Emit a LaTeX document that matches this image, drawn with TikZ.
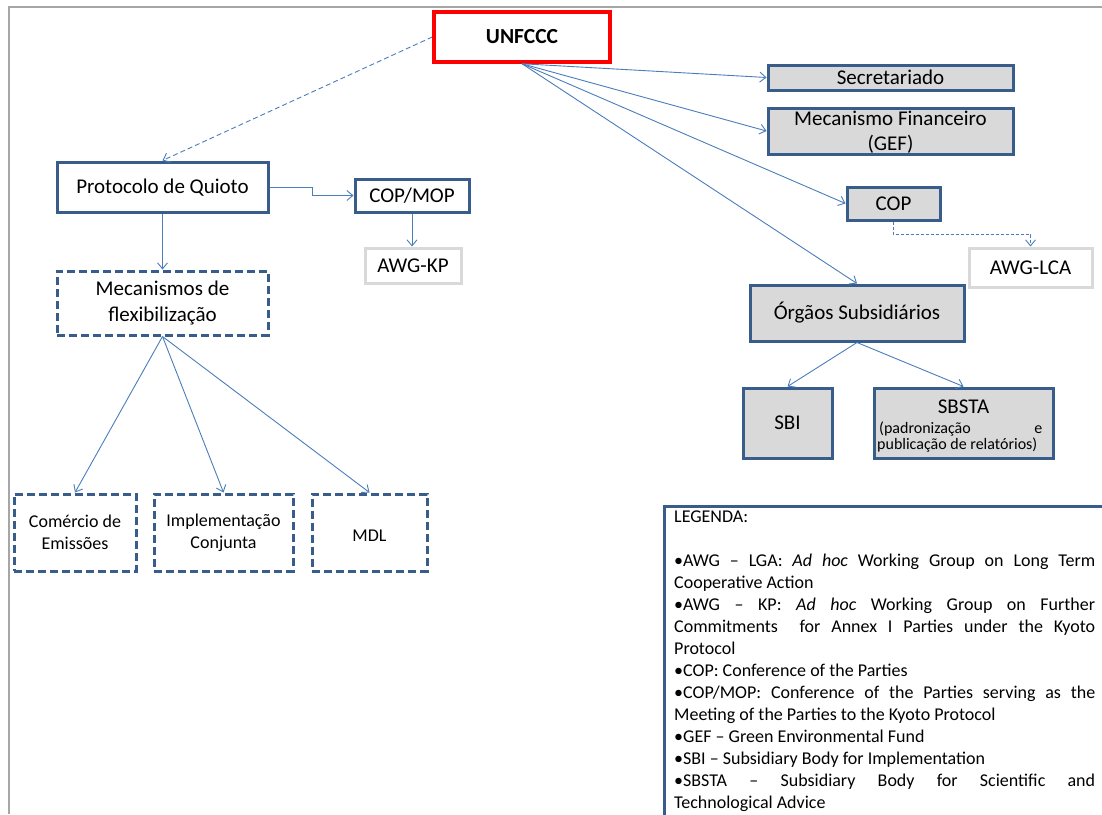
\documentclass[tikz,border=0pt]{standalone}
\usepackage{fontspec}
\setmainfont{Carlito}
\usetikzlibrary{arrows.meta}
\definecolor{boxblue}{HTML}{385D8A}
\definecolor{linkblue}{HTML}{4A7EBB}
\definecolor{boxgray}{HTML}{D9D9D9}
\definecolor{framegray}{HTML}{A6A6A6}
\newcommand\legjust[1]{\makebox[421pt][s]{#1}}
\begin{document}
\begin{tikzpicture}[x=1pt,y=-1pt,
  basebox/.style={rectangle, inner sep=0pt, font=\fontsize{21}{25.6}\selectfont, align=center},
  single/.style={text height=13.5pt, text depth=0pt},
  solidbox/.style={basebox, draw=boxblue, line width=3pt, fill=white},
  graybox/.style={solidbox, fill=boxgray},
  dashbox/.style={basebox, draw=boxblue, line width=3pt, dash pattern=on 8pt off 4pt, fill=white},
  lightbox/.style={basebox, draw=boxgray, line width=3pt, fill=white},
  smallfont/.style={font=\fontsize{18}{22}\selectfont},
  txt/.style={inner sep=0pt, font=\fontsize{21}{25.6}\selectfont},
  link/.style={draw=linkblue, line width=0.9pt, -{Straight Barb[length=6pt,width=10pt]}},
  dlink/.style={link, dash pattern=on 5pt off 3pt},
]
\useasboundingbox (0,0) rectangle (1102,814);
\fill[white] (0,0) rectangle (1102,814);
% frame
\draw[framegray, line width=2pt] (9,814) -- (9,7) -- (1102,7);

% legend box
\node[draw=boxblue, line width=3pt, fill=white, inner sep=0pt, minimum width=460pt, minimum height=340pt, anchor=north west] (legbox) at (663,505) {};
\node[anchor=north west, inner sep=0pt, text width=421pt, align=justify, font=\fontsize{18}{22}\selectfont] (legtxt) at (674,510.5) {LEGENDA:\\
\mbox{}\\
\legjust{•AWG – LGA: \textit{Ad hoc} Working Group on Long Term}\\
Cooperative Action\\
\legjust{•AWG – KP: \textit{Ad hoc} Working Group on Further}\\
\legjust{Commitments \ for Annex I Parties under the Kyoto}\\
Protocol\\
•COP: Conference of the Parties\\
\legjust{•COP/MOP: Conference of the Parties serving as the}\\
Meeting of the Parties to the Kyoto Protocol\\
•GEF – Green Environmental Fund\\
•SBI – Subsidiary Body for Implementation\\
\legjust{•SBSTA – Subsidiary Body for Scientific and}\\
Technological Advice};

% boxes
\node[solidbox, draw=red, line width=3.5pt, font=\fontsize{21.5}{25}\selectfont\bfseries, text height=13.8pt, text depth=0pt, minimum width=176pt, minimum height=50pt] (u) at (522,37) {UNFCCC};
\node[graybox, single, minimum width=245pt, minimum height=25pt] (sec) at (890.5,77.5) {Secretariado};
\node[graybox, minimum width=245pt, minimum height=46pt] (mf) at (890.5,131) {};
\node[txt, anchor=base] (mft1) at (890.5,125) {Mecanismo Financeiro};
\node[txt, anchor=base] (mft2) at (890.5,150) {(GEF)};
\node[graybox, single, minimum width=93pt, minimum height=33pt] (cop) at (893.5,203.5) {COP};
\node[lightbox, single, minimum width=123pt, minimum height=39pt] (lca) at (1030.5,267.5) {AWG-LCA};
\node[graybox, single, minimum width=214pt, minimum height=56pt] (org) at (857,313) {Órgãos Subsidiários};
\node[graybox, single, minimum width=89pt, minimum height=70pt] (sbi) at (787.5,423) {SBI};
\node[graybox, minimum width=179pt, minimum height=70pt] (sbsta) at (963.5,423) {};
\node[txt, anchor=base] (sbt1) at (963.5,413) {SBSTA};
\node[inner sep=0pt, anchor=base west, font=\fontsize{16}{16}\selectfont] (sbt2) at (879,433) {\makebox[163pt][s]{(padronização e}};
\node[inner sep=0pt, anchor=base west, font=\fontsize{16}{16}\selectfont] (sbt3) at (877,449) {publicação de relatórios)};

\node[solidbox, single, minimum width=211pt, minimum height=50pt] (pq) at (162.5,187) {Protocolo de Quioto};
\node[solidbox, single, minimum width=114pt, minimum height=33pt] (cm) at (412,195.5) {COP/MOP};
\node[lightbox, single, minimum width=96pt, minimum height=35pt] (kp) at (413,265.5) {AWG-KP};
\node[dashbox, minimum width=211pt, minimum height=64pt] (mec) at (162.5,303) {Mecanismos de\\flexibilização};
\node[dashbox, smallfont, minimum width=122pt, minimum height=77pt] (com) at (75,532.5) {Comércio de\\Emissões};
\node[dashbox, smallfont, minimum width=139pt, minimum height=77pt] (imp) at (223.5,532.5) {Implementação\\Conjunta};
\node[dashbox, smallfont, text height=17.6pt, text depth=0pt, minimum width=115pt, minimum height=77pt] (mdl) at (369.5,532.5) {MDL};

% connectors
\draw[dlink] (u.west) -- (pq.north);
\draw[link] (u.south) -- (sec.west);
\draw[link] (u.south) -- (mf.west);
\draw[link] (u.south) -- (cop.west);
\draw[link] (u.south) -- (org.north);
\draw[link] (pq.east) -- ++(43,0) |- (cm.west);
\draw[link] (cm.south) -- (cm.south |- kp.north);
\draw[link] (pq.south) -- (mec.north);
\draw[link] (mec.south) -- (com.north);
\draw[link] (mec.south) -- (imp.north);
\draw[link] (mec.south) -- (mdl.north);
\draw[link, dash pattern=on 3pt off 2pt] (cop.south) -- ++(0,13) -| (lca.north);
\draw[link] (org.south) -- (sbi.north);
\draw[link] (org.south) -- (sbsta.north);
\end{tikzpicture}
\end{document}
